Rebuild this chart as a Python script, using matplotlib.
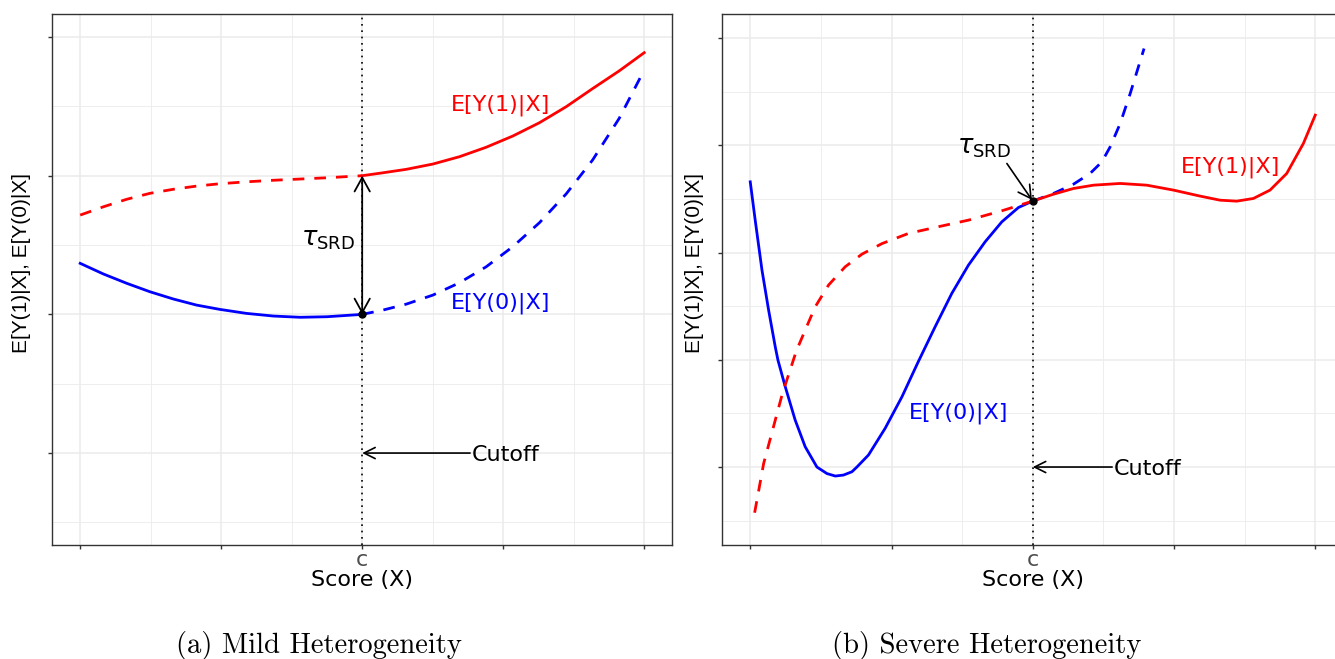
import matplotlib
matplotlib.use("Agg")
import matplotlib.pyplot as plt
from matplotlib import font_manager as fm

# ---------------- data ----------------
C = 2.0
X_TICKS = [0, 1, 2, 3, 4]
X_TICK_LABELS = ["", "", "c", "", ""]
X_MINOR = [0.5, 1.5, 2.5, 3.5]

# Panel (a): mild heterogeneity
A_Y_TICKS = [0, 1, 2, 3]
A_Y_MINOR = [-0.5, 0.5, 1.5, 2.5]
A_X_LEFT = [0, 0.165, 0.33, 0.495, 0.66, 0.825, 0.99, 1.18, 1.37, 1.56, 1.75, 2.0]
A_Y1_LEFT = [1.716, 1.776, 1.830, 1.873, 1.902, 1.925, 1.942, 1.956, 1.967, 1.976, 1.985, 2.0]
A_Y0_LEFT = [1.368, 1.291, 1.224, 1.163, 1.111, 1.067, 1.036, 1.007, 0.988, 0.979, 0.983, 1.0]
A_X_RIGHT = [2.0, 2.147, 2.313, 2.501, 2.690, 2.879, 3.068, 3.257, 3.446, 3.634, 3.823, 4.0]
A_Y1_RIGHT = [2.0, 2.021, 2.046, 2.084, 2.137, 2.205, 2.286, 2.382, 2.497, 2.628, 2.756, 2.887]
A_Y0_RIGHT = [1.0, 1.031, 1.074, 1.139, 1.228, 1.343, 1.488, 1.661, 1.868, 2.113, 2.414, 2.762]

# Panel (b): severe heterogeneity
B_Y_TICKS = [0, 1, 2, 3, 4]
B_Y_MINOR = [-0.5, 0.5, 1.5, 2.5, 3.5]
B_X0_LEFT = [0, 0.035, 0.083, 0.130, 0.177, 0.196, 0.248, 0.318, 0.389, 0.472, 0.543, 0.602,
             0.660, 0.720, 0.755, 0.837, 0.955, 1.074, 1.187, 1.309, 1.427, 1.545,
             1.663, 1.781, 1.899, 2.0]
B_Y0_LEFT = [2.659, 2.302, 1.836, 1.463, 1.121, 0.997, 0.748, 0.438, 0.189, 0.0, -0.061, -0.084,
             -0.075, -0.044, 0.0, 0.112, 0.361, 0.655, 0.975, 1.308, 1.619, 1.883,
             2.100, 2.286, 2.420, 2.48]
B_X1_LEFT = [0.031, 0.095, 0.228, 0.326, 0.389, 0.460, 0.554, 0.672, 0.791, 0.932, 1.120,
             1.309, 1.545, 1.781, 2.0]
B_Y1_LEFT = [-0.426, 0.034, 0.687, 1.081, 1.277, 1.494, 1.696, 1.867, 1.985, 2.083, 2.178,
             2.234, 2.302, 2.389, 2.48]
B_X1_RIGHT = [2.0, 2.147, 2.288, 2.430, 2.619, 2.807, 2.996, 3.185, 3.326, 3.444, 3.562,
              3.680, 3.798, 3.916, 4.0]
B_Y1_RIGHT = [2.48, 2.544, 2.597, 2.628, 2.644, 2.628, 2.582, 2.526, 2.488, 2.479, 2.504,
              2.582, 2.737, 3.017, 3.281]
B_X0_RIGHT = [2.0, 2.147, 2.288, 2.406, 2.489, 2.548, 2.619, 2.690, 2.748, 2.788]
B_Y0_RIGHT = [2.48, 2.551, 2.637, 2.737, 2.845, 2.985, 3.203, 3.483, 3.731, 3.902]

Y1_LABEL = "E[Y(1)|X]"
Y0_LABEL = "E[Y(0)|X]"
Y_AXIS_LABEL = "E[Y(1)|X], E[Y(0)|X]"
X_AXIS_LABEL = "Score (X)"
CUTOFF_LABEL = "Cutoff"
TAU_LABEL = r"$\tau_{\mathrm{SRD}}$"
CAPTIONS = ["(a) Mild Heterogeneity", "(b) Severe Heterogeneity"]

# ---------------- style ----------------
plt.rcParams["font.family"] = ["DejaVu Sans"]
plt.rcParams["mathtext.fontset"] = "dejavusans"

names = {f.name for f in fm.fontManager.ttflist}
if "Liberation Sans Narrow" in names:
    YLAB_FONT, YLAB_SIZE = "Liberation Sans Narrow", 18
else:
    YLAB_FONT, YLAB_SIZE = "Liberation Sans", 15
CAP_FONT = "cmr10" if "cmr10" in names else "DejaVu Serif"

RED = "#FF0000"
BLUE = "#0000FF"
GRID = "#EBEBEB"
SPINE = "#333333"
TXT = 16
LW = 2.0
DASH = (0, (4.2, 3.6))

W, H = 1335, 659
fig = plt.figure(figsize=(W / 100, H / 100), dpi=100)


def px_axes(l, t, r, b):
    return fig.add_axes([l / W, 1 - b / H, (r - l) / W, (b - t) / H])


def style(ax, ylim, yticks, yminor):
    ax.set_xlim(-0.2, 4.2)
    ax.set_ylim(*ylim)
    ax.set_xticks(X_TICKS)
    ax.set_xticklabels(X_TICK_LABELS)
    ax.set_xticks(X_MINOR, minor=True)
    ax.set_yticks(yticks)
    ax.set_yticklabels([""] * len(yticks))
    ax.set_yticks(yminor, minor=True)
    ax.grid(which="major", color=GRID, lw=1.1)
    ax.grid(which="minor", color=GRID, lw=0.6)
    ax.set_axisbelow(True)
    for s in ax.spines.values():
        s.set_color(SPINE)
        s.set_linewidth(1.0)
    ax.tick_params(which="major", length=3, width=1.0, color=SPINE,
                   labelsize=TXT, labelcolor="#4D4D4D", pad=0.8)
    ax.tick_params(which="minor", length=0)
    ax.axvline(C, color="black", lw=1.2, linestyle=(0, (1, 2.8)), zorder=1.5)


def caps_label(ax, x, y, s, color, ha="center"):
    ax.annotate(s, xy=(x, y), xytext=(0, -0.3645 * TXT), textcoords="offset points",
                ha=ha, va="baseline", fontsize=TXT, color=color)


def cutoff(ax, x_start):
    ax.annotate("", xy=(C, 0), xytext=(x_start, 0),
                arrowprops=dict(arrowstyle="->,head_length=0.8,head_width=0.4", lw=1.2,
                                color="black", shrinkA=0, shrinkB=0, mutation_scale=10))
    caps_label(ax, x_start + 0.01, 0, CUTOFF_LABEL, "black", ha="left")


# ---------------- panel (a) ----------------
axA = px_axes(52, 14, 672.4, 545)
style(axA, (-0.663, 3.166), A_Y_TICKS, A_Y_MINOR)
axA.plot(A_X_LEFT, A_Y0_LEFT, color=BLUE, lw=LW, solid_joinstyle="round")
axA.plot(A_X_RIGHT, A_Y0_RIGHT, color=BLUE, lw=LW, linestyle=DASH)
axA.plot(A_X_LEFT, A_Y1_LEFT, color=RED, lw=LW, linestyle=DASH)
axA.plot(A_X_RIGHT, A_Y1_RIGHT, color=RED, lw=LW, solid_joinstyle="round")
axA.annotate("", xy=(C, A_Y0_RIGHT[0]), xytext=(C, A_Y1_RIGHT[0]),
             arrowprops=dict(arrowstyle="<->,head_length=1.0,head_width=0.55", lw=1.3,
                             color="black", shrinkA=0, shrinkB=0, mutation_scale=10),
             zorder=4)
axA.plot([C], [A_Y0_RIGHT[0]], "o", color="black", ms=5, zorder=5)
axA.text(1.954, 1.5, TAU_LABEL, ha="right", va="baseline", fontsize=18.5)
caps_label(axA, 2.979, 2.525, Y1_LABEL, RED)
caps_label(axA, 2.979, 1.103, Y0_LABEL, BLUE)
cutoff(axA, 2.765)

# ---------------- panel (b) ----------------
axB = px_axes(722, 14, 1343.5, 545)
style(axB, (-0.727, 4.224), B_Y_TICKS, B_Y_MINOR)
axB.plot(B_X0_LEFT, B_Y0_LEFT, color=BLUE, lw=LW, solid_joinstyle="round")
axB.plot(B_X0_RIGHT, B_Y0_RIGHT, color=BLUE, lw=LW, linestyle=DASH)
axB.plot(B_X1_LEFT, B_Y1_LEFT, color=RED, lw=LW, linestyle=DASH)
axB.plot(B_X1_RIGHT, B_Y1_RIGHT, color=RED, lw=LW, solid_joinstyle="round")
axB.annotate("", xy=(C, B_Y1_RIGHT[0]), xytext=(1.817, 2.83),
             arrowprops=dict(arrowstyle="->,head_length=0.9,head_width=0.5", lw=1.2,
                             color="black", shrinkA=0, shrinkB=1, mutation_scale=10),
             zorder=4)
axB.plot([C], [B_Y1_RIGHT[0]], "o", color="black", ms=5, zorder=5)
axB.text(1.657, 2.926, TAU_LABEL, ha="center", va="baseline", fontsize=18.5)
caps_label(axB, 3.397, 2.824, Y1_LABEL, RED)
caps_label(axB, 1.477, 0.531, Y0_LABEL, BLUE)
cutoff(axB, 2.562)

# ---------------- axis titles & captions ----------------
for xc in (22, 694):
    fig.text(xc / W, 1 - 263 / H, Y_AXIS_LABEL, rotation=90, ha="center", va="center",
             fontsize=YLAB_SIZE, family=YLAB_FONT)
for xc in (362, 1033):
    fig.text(xc / W, 1 - 585.7 / H, X_AXIS_LABEL, ha="center", va="baseline", fontsize=TXT)
for xc, cap in zip((318.5, 987), CAPTIONS):
    fig.text(xc / W, 1 - 653.5 / H, cap, ha="center", va="baseline", fontsize=20.6,
             family=CAP_FONT)

fig.savefig("out.png", dpi=100)
